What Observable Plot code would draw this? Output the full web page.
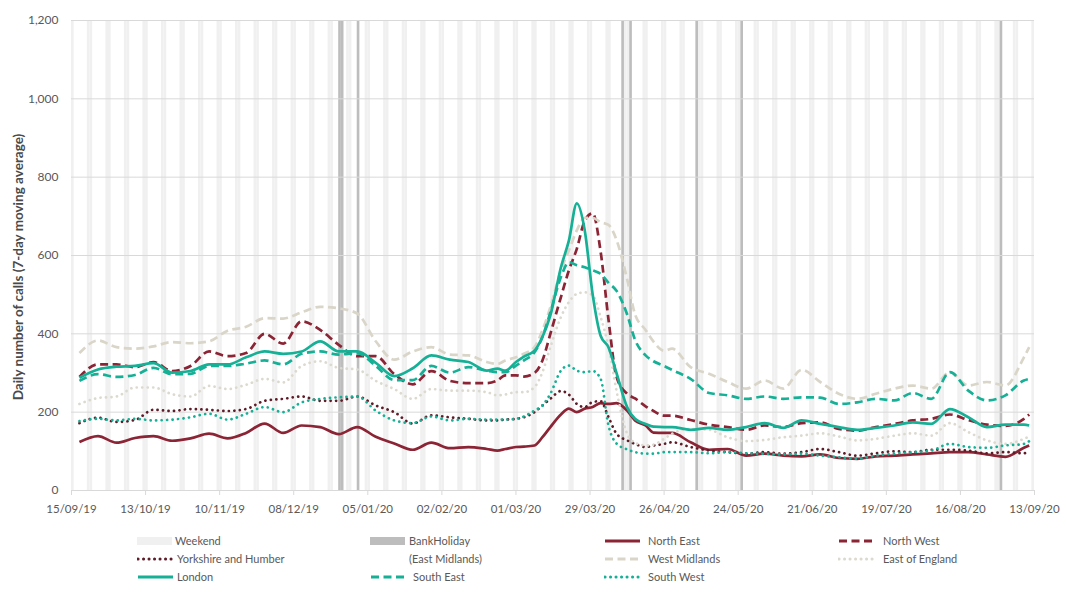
<!DOCTYPE html>
<html>
<head>
<meta charset="utf-8">
<script src="https://cdn.jsdelivr.net/npm/d3@7"></script>
<script src="https://cdn.jsdelivr.net/npm/@observablehq/plot@0.6"></script>
<style>
  body { margin: 0; background: #ffffff; }
  #wrap { position: relative; width: 1066px; height: 601px; font-family: Lato, "Open Sans", sans-serif; background: #fff; }
  #legend { position: absolute; left: 0; top: 525px; width: 1066px; height: 76px; }
  .lt { position: absolute; font-size: 11px; color: #595959; white-space: nowrap; line-height: 14px; }
  .sw { position: absolute; }
</style>
</head>
<body>
<div id="wrap"><div id="chart"></div><div id="legend"></div></div>
<script>
// ---- data (7-day moving average of daily calls) ----
const dates = ["2019-09-18","2019-09-25","2019-10-02","2019-10-09","2019-10-16","2019-10-23","2019-10-30","2019-11-06","2019-11-13","2019-11-20","2019-11-27","2019-12-04","2019-12-11","2019-12-18","2019-12-25","2020-01-01","2020-01-08","2020-01-15","2020-01-22","2020-01-29","2020-02-05","2020-02-12","2020-02-19","2020-02-23","2020-02-26","2020-03-01","2020-03-04","2020-03-08","2020-03-11","2020-03-14","2020-03-18","2020-03-21","2020-03-24","2020-03-27","2020-03-30","2020-04-02","2020-04-05","2020-04-08","2020-04-12","2020-04-15","2020-04-19","2020-04-22","2020-04-26","2020-04-29","2020-05-06","2020-05-13","2020-05-20","2020-05-27","2020-06-03","2020-06-10","2020-06-17","2020-06-24","2020-07-01","2020-07-08","2020-07-15","2020-07-22","2020-07-29","2020-08-05","2020-08-12","2020-08-19","2020-08-26","2020-09-02","2020-09-09","2020-09-11"];

const northEast = [124,139,122,134,139,127,133,145,133,147,171,147,166,162,144,162,137,120,104,122,108,111,106,102,106,111,112,115,136,162,194,209,200,209,213,223,221,223,204,179,166,148,147,147,123,104,106,89,94,89,87,92,83,81,87,89,92,95,98,98,92,86,109,115];
const northWest = [290,322,322,315,328,305,318,355,343,351,400,375,432,410,372,343,343,297,271,305,280,274,274,281,294,294,291,300,332,400,494,562,617,689,708,610,435,290,247,235,215,203,191,191,180,168,162,155,166,162,172,174,157,153,162,170,179,183,194,180,168,165,183,194];
const yorkshire = [172,186,175,180,206,203,208,206,203,208,229,234,240,229,229,240,217,200,171,192,187,183,179,179,181,183,187,200,217,234,254,245,221,213,226,228,187,145,128,119,111,115,119,123,111,102,98,94,98,94,98,106,98,89,95,100,98,104,104,102,95,98,95,102];
const westMidlands = [351,383,366,362,368,379,376,381,408,418,440,439,455,469,465,452,381,334,355,366,347,345,328,323,332,340,349,366,409,468,562,613,664,696,696,685,678,640,540,450,410,380,357,362,315,298,277,260,281,260,308,277,247,234,247,260,268,260,302,268,277,268,340,366];
const eastEngland = [221,236,240,263,263,246,240,267,259,270,285,276,318,330,313,309,280,259,234,259,255,255,251,243,245,251,251,264,302,366,443,481,502,506,498,443,366,255,145,122,115,117,132,145,157,155,136,126,129,136,140,146,138,128,132,140,146,140,172,149,128,119,132,138];
const london = [288,309,316,318,325,301,305,322,322,340,355,349,355,381,355,355,326,292,312,345,334,328,306,311,306,328,342,357,392,447,570,638,733,664,500,395,365,300,213,183,170,163,162,162,155,160,155,162,172,160,179,170,162,155,160,166,174,170,208,187,162,168,168,166];
const southEast = [280,297,290,295,313,297,298,318,318,324,332,322,349,355,347,351,318,282,282,318,301,315,306,302,302,319,332,353,392,455,545,583,575,570,562,553,530,510,450,385,345,330,318,308,285,249,243,234,240,234,238,237,221,225,234,230,249,234,302,255,230,243,281,285];
const southWest = [177,183,179,183,179,181,187,196,181,196,213,200,225,234,238,240,204,179,172,189,179,183,181,181,181,183,189,204,217,247,306,319,306,302,305,285,165,120,105,98,94,94,98,98,98,95,98,95,94,92,94,89,85,81,89,94,98,102,119,111,109,115,119,126];

const bankHolidays = ["2019-12-25","2019-12-26","2020-01-01","2020-04-10","2020-04-13","2020-05-08","2020-05-25","2020-08-31"];
const tickLabels = ["2019-09-15","2019-10-13","2019-11-10","2019-12-08","2020-01-05","2020-02-02","2020-03-01","2020-03-29","2020-04-26","2020-05-24","2020-06-21","2020-07-19","2020-08-16","2020-09-13"];
const yTicks = [0,200,400,600,800,1000,1200];
const xStart = "2019-09-15", xEnd = "2020-09-13";

// ---- styles ----
const RED = "#8b2434", MAROON = "#5e1c28", BEIGE = "#d9d5c8", BEIGE_L = "#dcd9cf", TEAL = "#16b096";
const DASH = "8,4.5", DOT = "0.1,5.4";
const series = [
  {name: "North East", values: northEast, stroke: RED, dash: null},
  {name: "North West", values: northWest, stroke: RED, dash: DASH},
  {name: "Yorkshire and Humber", values: yorkshire, stroke: MAROON, dash: DOT},
  {name: "West Midlands", values: westMidlands, stroke: BEIGE, dash: DASH},
  {name: "East of England", values: eastEngland, stroke: BEIGE_L, dash: DOT},
  {name: "London", values: london, stroke: TEAL, dash: null},
  {name: "South East", values: southEast, stroke: TEAL, dash: DASH},
  {name: "South West", values: southWest, stroke: TEAL, dash: DOT}
];

const parse = s => new Date(s + "T00:00:00Z");
const start = parse(xStart), end = parse(xEnd);
const weekendDays = d3.utcDay.range(start, end).filter(d => d.getUTCDay() === 0 || d.getUTCDay() === 6);
const holidays = bankHolidays.map(parse);

const lineMarks = series.map(s => {
  const rows = dates.map((d, i) => ({date: parse(d), value: s.values[i]}));
  return Plot.line(rows, {
    x: "date", y: "value", stroke: s.stroke, strokeWidth: 2.7,
    strokeDasharray: s.dash || undefined,
    strokeLinecap: s.dash === DOT ? "round" : "butt",
    curve: "monotone-x"
  });
});

const plot = Plot.plot({
  width: 1066, height: 525,
  marginLeft: 71, marginRight: 32, marginTop: 20, marginBottom: 35,
  style: {fontFamily: "Lato, 'Open Sans', sans-serif", fontSize: "11px", background: "white", color: "#595959"},
  x: {type: "utc", domain: [start, end]},
  y: {domain: [0, 1200]},
  marks: [
    Plot.rect(weekendDays, {x1: d => d, x2: d => d3.utcDay.offset(d, 1), fill: "#f0f0f0"}),
    Plot.rect(holidays, {x1: d => d, x2: d => d3.utcDay.offset(d, 1), fill: "#bdbdbd"}),
    Plot.ruleY(yTicks, {stroke: "#d9d9d9", strokeWidth: 1}),
    Plot.axisX({ticks: tickLabels.map(parse), tickFormat: d3.utcFormat("%d/%m/%y"), tickSize: 5, tickPadding: 9, stroke: "#d9d9d9", color: "#595959", label: null, fontSize: 11.5}),
    Plot.axisY({ticks: yTicks, tickFormat: d3.format(","), tickSize: 0, tickPadding: 13, color: "#595959", label: null, fontSize: 12}),
    ...lineMarks
  ]
});
document.getElementById("chart").appendChild(plot);

// y-axis title
d3.select(plot).append("text")
  .attr("transform", "translate(18,267) rotate(-90)")
  .attr("text-anchor", "middle")
  .attr("dominant-baseline", "central")
  .attr("fill", "#4a4a4a")
  .attr("font-weight", "bold")
  .attr("font-size", "13.5px")
  .attr("font-family", "Lato, 'Open Sans', sans-serif")
  .text("Daily number of calls (7-day moving average)");

// ---- legend ----
const legendItems = [
  {label: "Weekend", kind: "rect", fill: "#f0f0f0", sx: 137, tx: 175, row: 0},
  {label: "BankHoliday", kind: "rect", fill: "#bdbdbd", sx: 370, tx: 409, row: 0},
  {label: "North East", kind: "line", s: 0, sx: 604, tx: 648, row: 0},
  {label: "North West", kind: "line", s: 1, sx: 838, tx: 883, row: 0},
  {label: "Yorkshire and Humber", kind: "line", s: 2, sx: 137, tx: 177, row: 1},
  {label: "(East Midlands)", kind: "none", tx: 409, row: 1},
  {label: "West Midlands", kind: "line", s: 3, sx: 604, tx: 648, row: 1},
  {label: "East of England", kind: "line", s: 4, sx: 838, tx: 883, row: 1},
  {label: "London", kind: "line", s: 5, sx: 137, tx: 177, row: 2},
  {label: "South East", kind: "line", s: 6, sx: 370, tx: 413, row: 2},
  {label: "South West", kind: "line", s: 7, sx: 604, tx: 648, row: 2}
];
const rowY = [16, 34, 52];
const legend = d3.select("#legend");
legendItems.forEach(it => {
  const cy = rowY[it.row];
  if (it.kind === "rect") {
    legend.append("div").attr("class", "sw")
      .style("left", it.sx + "px").style("top", (cy - 4) + "px")
      .style("width", "35px").style("height", "8px").style("background", it.fill);
  } else if (it.kind === "line") {
    const s = series[it.s];
    const svg = legend.append("svg").attr("class", "sw")
      .attr("width", 37).attr("height", 8)
      .style("left", it.sx + "px").style("top", (cy - 4) + "px");
    svg.append("line").attr("x1", 1).attr("x2", 36).attr("y1", 4).attr("y2", 4)
      .attr("stroke", s.stroke).attr("stroke-width", 3)
      .attr("stroke-dasharray", s.dash || null)
      .attr("stroke-linecap", s.dash === DOT ? "round" : "butt");
  }
  legend.append("div").attr("class", "lt")
    .style("left", it.tx + "px").style("top", (cy - 7) + "px")
    .text(it.label);
});
</script>
</body>
</html>
